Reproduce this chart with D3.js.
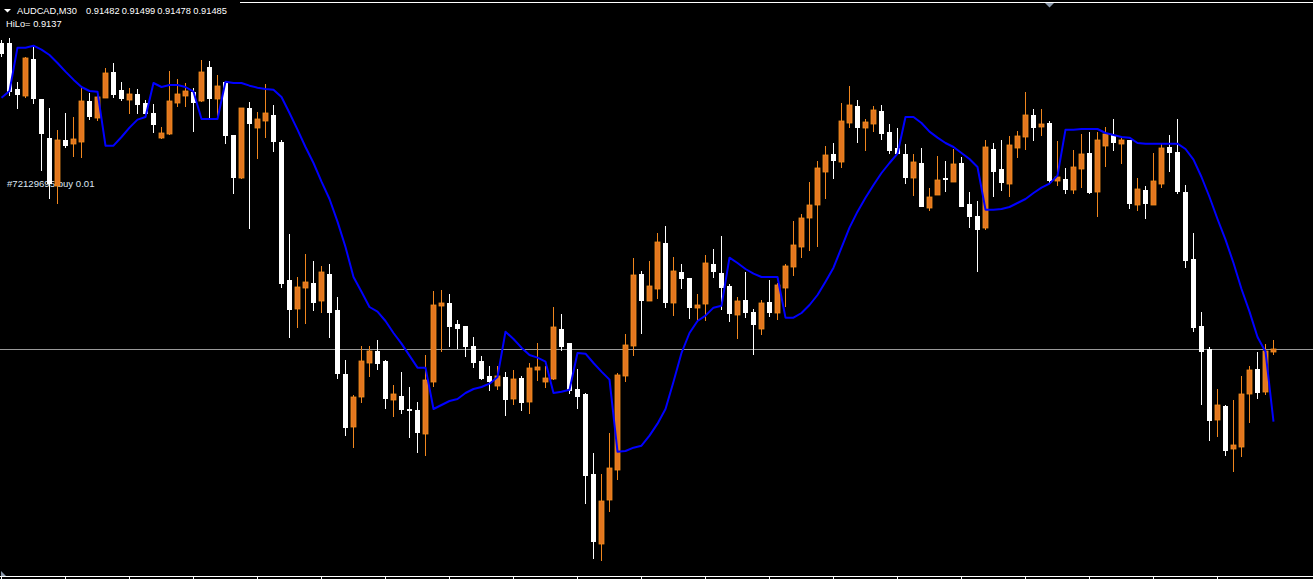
<!DOCTYPE html>
<html><head><meta charset="utf-8">
<script src="https://cdn.jsdelivr.net/npm/d3@7"></script>
<style>html,body{margin:0;padding:0;background:#000;overflow:hidden}</style>
</head><body>
<script>
const symbolTitle = "AUDCAD,M30";
const headerQuote = ["0.91482", "0.91499", "0.91478", "0.91485"];
const hiLoLabel = "HiLo= 0.9137";
const orderLabel = "#72129695 buy 0.01";
const bidPrice = 0.91485;

const candleOpen = [0.91944,0.91944,0.91875,0.91866,0.91920,0.91860,0.91802,0.91731,0.91799,0.91794,
0.91797,0.91857,0.91833,0.91863,0.91901,0.91874,0.91860,0.91868,0.91854,0.91839,
0.91803,0.91809,0.91856,0.91866,0.91871,0.91859,0.91908,0.91862,0.91886,0.91806,
0.91743,0.91847,0.91818,0.91829,0.91836,0.91796,0.91589,0.91547,0.91578,0.91584,
0.91559,0.91598,0.91544,0.91448,0.91370,0.91415,0.91466,0.91482,0.91467,0.91410,
0.91415,0.91395,0.91394,0.91359,0.91437,0.91551,0.91554,0.91523,0.91520,0.91490,
0.91467,0.91445,0.91431,0.91443,0.91412,0.91442,0.91407,0.91455,0.91437,0.91442,
0.91515,0.91494,0.91425,0.91418,0.91298,0.91194,0.91260,0.91305,0.91446,0.91491,
0.91598,0.91559,0.91577,0.91644,0.91556,0.91601,0.91592,0.91548,0.91554,0.91613,
0.91599,0.91580,0.91538,0.91559,0.91541,0.91517,0.91556,0.91541,0.91578,0.91610,
0.91640,0.91683,0.91703,0.91752,0.91778,0.91767,0.91826,0.91850,0.91818,0.91824,
0.91842,0.91811,0.91787,0.91778,0.91743,0.91764,0.91698,0.91718,0.91742,0.91737,
0.91764,0.91703,0.91685,0.91668,0.91785,0.91755,0.91734,0.91788,0.91805,0.91836,
0.91820,0.91824,0.91739,0.91740,0.91725,0.91757,0.91779,0.91722,0.91791,0.91806,
0.91794,0.91799,0.91703,0.91724,0.91703,0.91734,0.91788,0.91781,0.91721,0.91620,
0.91520,0.91485,0.91380,0.91400,0.91337,0.91340,0.91419,0.91455,0.91422,0.91482];

const candleHigh = [0.91949,0.91952,0.91886,0.91923,0.91941,0.91860,0.91847,0.91814,0.91839,0.91833,
0.91877,0.91869,0.91871,0.91907,0.91914,0.91886,0.91877,0.91875,0.91859,0.91853,
0.91818,0.91902,0.91890,0.91884,0.91877,0.91919,0.91917,0.91896,0.91886,0.91806,
0.91847,0.91856,0.91841,0.91883,0.91851,0.91799,0.91658,0.91593,0.91628,0.91617,
0.91610,0.91613,0.91563,0.91469,0.91416,0.91490,0.91490,0.91499,0.91469,0.91431,
0.91451,0.91428,0.91406,0.91476,0.91572,0.91574,0.91568,0.91529,0.91520,0.91503,
0.91475,0.91460,0.91460,0.91451,0.91454,0.91445,0.91464,0.91494,0.91460,0.91548,
0.91538,0.91494,0.91455,0.91419,0.91329,0.91298,0.91359,0.91449,0.91508,0.91622,
0.91602,0.91617,0.91659,0.91670,0.91623,0.91613,0.91592,0.91568,0.91626,0.91635,
0.91655,0.91583,0.91563,0.91601,0.91545,0.91559,0.91589,0.91584,0.91613,0.91677,
0.91688,0.91736,0.91767,0.91790,0.91794,0.91854,0.91880,0.91859,0.91830,0.91850,
0.91851,0.91823,0.91817,0.91793,0.91778,0.91787,0.91727,0.91775,0.91767,0.91785,
0.91773,0.91721,0.91707,0.91799,0.91794,0.91799,0.91805,0.91812,0.91871,0.91845,
0.91845,0.91827,0.91797,0.91757,0.91784,0.91808,0.91811,0.91811,0.91818,0.91830,
0.91803,0.91799,0.91742,0.91730,0.91779,0.91794,0.91806,0.91830,0.91731,0.91659,
0.91541,0.91488,0.91425,0.91401,0.91409,0.91445,0.91460,0.91481,0.91493,0.91499];

const candleLow = [0.91925,0.91866,0.91847,0.91863,0.91854,0.91754,0.91712,0.91704,0.91788,0.91775,
0.91773,0.91830,0.91829,0.91863,0.91863,0.91859,0.91839,0.91839,0.91836,0.91811,
0.91802,0.91808,0.91850,0.91850,0.91812,0.91857,0.91832,0.91832,0.91794,0.91719,
0.91742,0.91667,0.91772,0.91803,0.91782,0.91578,0.91503,0.91518,0.91524,0.91544,
0.91541,0.91503,0.91442,0.91356,0.91338,0.91406,0.91445,0.91455,0.91397,0.91385,
0.91389,0.91353,0.91331,0.91326,0.91430,0.91482,0.91490,0.91487,0.91475,0.91458,
0.91440,0.91424,0.91425,0.91386,0.91403,0.91394,0.91389,0.91439,0.91428,0.91440,
0.91484,0.91419,0.91397,0.91254,0.91172,0.91169,0.91242,0.91290,0.91437,0.91476,
0.91509,0.91559,0.91562,0.91548,0.91536,0.91577,0.91532,0.91529,0.91529,0.91593,
0.91545,0.91527,0.91502,0.91533,0.91478,0.91508,0.91535,0.91530,0.91550,0.91596,
0.91623,0.91634,0.91640,0.91712,0.91742,0.91758,0.91818,0.91796,0.91784,0.91812,
0.91800,0.91779,0.91779,0.91734,0.91716,0.91700,0.91694,0.91718,0.91722,0.91737,
0.91700,0.91668,0.91602,0.91665,0.91715,0.91724,0.91715,0.91773,0.91785,0.91799,
0.91806,0.91736,0.91731,0.91719,0.91719,0.91728,0.91719,0.91685,0.91760,0.91784,
0.91764,0.91697,0.91694,0.91682,0.91703,0.91728,0.91752,0.91719,0.91608,0.91512,
0.91403,0.91349,0.91355,0.91326,0.91302,0.91325,0.91376,0.91412,0.91418,0.91478];

const candleClose = [0.91929,0.91872,0.91868,0.91922,0.91862,0.91809,0.91734,0.91799,0.91791,0.91800,
0.91857,0.91835,0.91863,0.91899,0.91868,0.91862,0.91868,0.91853,0.91839,0.91823,
0.91809,0.91857,0.91868,0.91872,0.91856,0.91901,0.91862,0.91880,0.91806,0.91743,
0.91847,0.91824,0.91830,0.91839,0.91797,0.91584,0.91545,0.91578,0.91586,0.91556,
0.91601,0.91541,0.91449,0.91368,0.91413,0.91467,0.91482,0.91464,0.91412,0.91418,
0.91395,0.91394,0.91361,0.91439,0.91551,0.91554,0.91520,0.91517,0.91490,0.91466,
0.91442,0.91437,0.91445,0.91410,0.91440,0.91406,0.91457,0.91458,0.91442,0.91518,
0.91490,0.91424,0.91415,0.91296,0.91197,0.91257,0.91307,0.91446,0.91491,0.91596,
0.91559,0.91580,0.91646,0.91556,0.91602,0.91592,0.91548,0.91551,0.91614,0.91602,
0.91578,0.91539,0.91557,0.91541,0.91523,0.91554,0.91541,0.91581,0.91610,0.91641,
0.91682,0.91701,0.91757,0.91776,0.91769,0.91827,0.91851,0.91818,0.91826,0.91844,
0.91809,0.91784,0.91779,0.91743,0.91766,0.91700,0.91713,0.91739,0.91740,0.91763,
0.91700,0.91685,0.91665,0.91788,0.91752,0.91736,0.91791,0.91805,0.91836,0.91818,
0.91823,0.91739,0.91743,0.91725,0.91758,0.91778,0.91721,0.91799,0.91808,0.91796,
0.91799,0.91704,0.91725,0.91704,0.91737,0.91787,0.91781,0.91722,0.91619,0.91518,
0.91482,0.91379,0.91401,0.91334,0.91341,0.91418,0.91454,0.91421,0.91482,0.91485];

const hiLo = [0.91862,0.91872,0.91937,0.91937,0.91940,0.91934,0.91926,0.91914,0.91901,0.91889,
0.91878,0.91872,0.91871,0.91790,0.91790,0.91803,0.91817,0.91829,0.91833,0.91884,
0.91878,0.91881,0.91881,0.91878,0.91871,0.91830,0.91830,0.91830,0.91886,0.91884,
0.91884,0.91880,0.91877,0.91875,0.91874,0.91863,0.91839,0.91814,0.91788,0.91764,
0.91736,0.91710,0.91676,0.91638,0.91593,0.91571,0.91548,0.91541,0.91527,0.91509,
0.91493,0.91475,0.91457,0.91457,0.91395,0.91401,0.91407,0.91410,0.91419,0.91425,
0.91428,0.91433,0.91443,0.91511,0.91500,0.91487,0.91476,0.91472,0.91466,0.91419,
0.91421,0.91424,0.91479,0.91478,0.91464,0.91451,0.91439,0.91331,0.91332,0.91337,
0.91340,0.91355,0.91373,0.91395,0.91436,0.91479,0.91509,0.91527,0.91535,0.91547,
0.91550,0.91622,0.91614,0.91605,0.91598,0.91593,0.91593,0.91593,0.91532,0.91532,
0.91539,0.91551,0.91566,0.91586,0.91607,0.91637,0.91667,0.91691,0.91712,0.91731,
0.91749,0.91764,0.91778,0.91833,0.91833,0.91824,0.91811,0.91802,0.91794,0.91788,
0.91779,0.91770,0.91758,0.91694,0.91694,0.91695,0.91698,0.91704,0.91710,0.91719,
0.91727,0.91733,0.91745,0.91814,0.91814,0.91815,0.91815,0.91815,0.91809,0.91806,
0.91803,0.91802,0.91794,0.91793,0.91793,0.91793,0.91793,0.91793,0.91785,0.91769,
0.91743,0.91713,0.91680,0.91649,0.91614,0.91575,0.91541,0.91503,0.91481,0.91376];

const W = 1313, H = 579;
const svg = d3.select("body").append("svg").attr("width", W).attr("height", H)
  .style("display", "block").style("background", "#000");

const n = candleOpen.length;
const x = d3.scaleLinear().domain([0, n - 1]).range([1.5, 1.5 + 8 * (n - 1)]);
const y = d3.scaleLinear().domain([0.9114, 0.920085]).range([H, 0]);

// frame
svg.append("rect").attr("x", 240).attr("y", 2).attr("width", W - 240).attr("height", 1).attr("fill", "#ffffff");
svg.append("rect").attr("x", 0).attr("y", 576).attr("width", W).attr("height", 1).attr("fill", "#ffffff");
const tickIdx = d3.range(0, n, 8);
svg.selectAll("line.tick").data(tickIdx).enter().append("line")
  .attr("x1", d => x(d)).attr("x2", d => x(d)).attr("y1", 577).attr("y2", 579)
  .attr("stroke", "#ffffff").attr("stroke-width", 1);
svg.append("path").attr("d", "M1,571 L1,576 L6,576 Z").attr("fill", "#8a98aa");
svg.append("path").attr("d", "M1045,3 L1054,3 L1049.5,7.5 Z").attr("fill", "#8a98aa");

// bid line
const by = Math.round(y(bidPrice)) + 0.5;
svg.append("line").attr("x1", 0).attr("x2", W).attr("y1", by).attr("y2", by)
  .attr("stroke", "#9a9a9a").attr("stroke-width", 1);

// texts
const font = "'Liberation Sans', Arial, sans-serif";
svg.append("path").attr("d", "M4,9 L11,9 L7.5,12.5 Z").attr("fill", "#ffffff");
svg.append("text").attr("x", 17).attr("y", 14).attr("fill", "#fff")
  .style("font-family", font).style("font-size", "9.3px").text(symbolTitle);
const qx = [86, 121.7, 157.3, 193.3];
headerQuote.forEach((q, k) => {
  svg.append("text").attr("x", qx[k]).attr("y", 14).attr("fill", "#fff")
    .style("font-family", font).style("font-size", "9.3px").text(q);
});
svg.append("text").attr("x", 6).attr("y", 26.5).attr("fill", "#fff")
  .style("font-family", font).style("font-size", "9.3px").text(hiLoLabel);
svg.append("text").attr("x", 7).attr("y", 186.5).attr("fill", "#dce6f2")
  .style("font-family", font).style("font-size", "9.6px").text(orderLabel);

// candles
const idx = d3.range(n);
const g = svg.append("g");
g.selectAll("line.wick").data(idx).enter().append("line")
  .attr("x1", i => x(i)).attr("x2", i => x(i))
  .attr("y1", i => Math.round(y(candleHigh[i])))
  .attr("y2", i => Math.round(y(candleLow[i])) + 1)
  .attr("stroke", i => candleClose[i] > candleOpen[i] ? "#f0861e" : "#ffffff")
  .attr("stroke-width", 1);
g.selectAll("rect.body").data(idx).enter().append("rect")
  .attr("x", i => x(i) - 2.5)
  .attr("width", 5)
  .attr("y", i => Math.round(y(Math.max(candleOpen[i], candleClose[i]))))
  .attr("height", i => Math.max(2, Math.round(y(Math.min(candleOpen[i], candleClose[i]))) - Math.round(y(Math.max(candleOpen[i], candleClose[i]))) + 1))
  .attr("fill", i => candleClose[i] > candleOpen[i] ? "#e2761f" : "#ffffff")
  .attr("stroke", i => candleClose[i] > candleOpen[i] ? "#f5901f" : "none")
  .attr("stroke-width", 0.8);

// HiLo line
const line = d3.line().x((d, i) => x(i)).y(d => y(d));
svg.append("path").datum(hiLo).attr("d", line)
  .attr("fill", "none").attr("stroke", "#0000ff").attr("stroke-width", 2)
  .attr("stroke-linejoin", "round");
</script>
</body></html>
